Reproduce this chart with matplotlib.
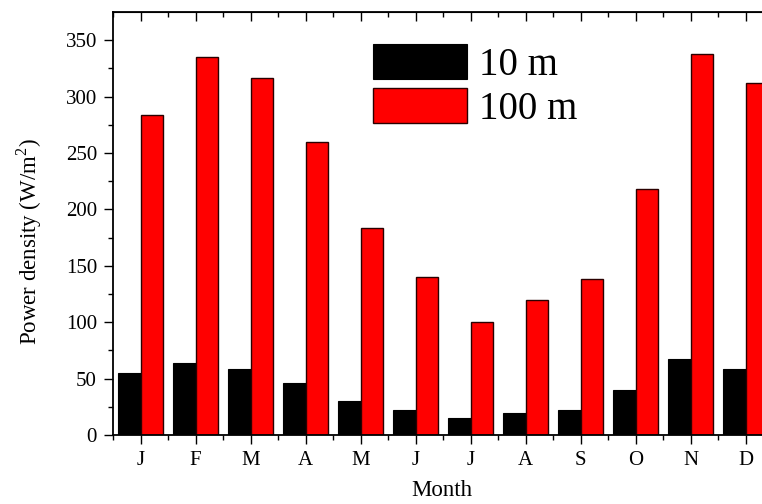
import matplotlib
matplotlib.use("Agg")
import matplotlib.pyplot as plt
from matplotlib.ticker import MultipleLocator
import numpy as np

plt.rcParams["font.family"] = ["Liberation Serif", "DejaVu Serif"]
plt.rcParams["mathtext.fontset"] = "custom"
plt.rcParams["mathtext.rm"] = "Liberation Serif"

months = ["J", "F", "M", "A", "M", "J", "J", "A", "S", "O", "N", "D"]
p_10m = [55.2, 63.5, 58.8, 45.8, 30.1, 21.9, 14.8, 19.2, 22.5, 39.6, 67.4, 58.5]
p_100m = [284.0, 335.4, 316.2, 259.8, 183.2, 140.1, 99.9, 119.7, 138.6, 218.4, 337.5, 311.8]

x = np.arange(1, len(months) + 1)
w = 0.41

fig = plt.figure(figsize=(7.62, 5.04), dpi=100)
# axes runs off the right edge like the original crop
ax = fig.add_axes([113 / 762, 69 / 504, 660 / 762, 422.5 / 504])

ax.bar(x - w / 2, p_10m, width=w, color="black", edgecolor="black", linewidth=0.8, label="10 m")
ax.bar(x + w / 2, p_100m, width=w, color="#ff0000", edgecolor="#2a0000", linewidth=1.0, label="100 m")

ax.set_xlim(0.5, 12.5)
ax.set_ylim(0, 374.5)
ax.set_xticks(x)
ax.set_xticklabels(months)
ax.xaxis.set_minor_locator(MultipleLocator(1.0, offset=0.5))
ax.yaxis.set_major_locator(MultipleLocator(50))
ax.yaxis.set_minor_locator(MultipleLocator(25))

ax.tick_params(axis="both", which="major", direction="out", length=6.5, width=1.0,
               labelsize=15, pad=5)
ax.tick_params(axis="both", which="minor", direction="out", length=3.5, width=1.0)
ax.tick_params(axis="x", which="major", pad=5)

# inward ticks on the top spine
top = ax.secondary_xaxis("top")
top.set_xticks(x)
top.set_xticklabels([])
top.xaxis.set_minor_locator(MultipleLocator(1.0, offset=0.5))
top.tick_params(which="major", direction="in", length=6.5, width=1.0)
top.tick_params(which="minor", direction="in", length=3.5, width=1.0)

for side in ["left", "bottom", "top"]:
    ax.spines[side].set_linewidth(1.3)
ax.spines["right"].set_visible(False)

ax.set_ylabel("Power density (W/m$^2$)", fontsize=16.5)
ax.yaxis.set_label_coords(-0.105, 0.458)
ax.set_xlabel("Month", fontsize=16.5)
ax.xaxis.set_label_coords(0.498, -0.107)

ax.legend(loc="upper left", bbox_to_anchor=(0.394, 0.925), frameon=False,
          fontsize=28, handlelength=2.42, handleheight=1.0, handletextpad=0.3,
          labelspacing=0.1, borderaxespad=0, borderpad=0)

fig.savefig("out.png", dpi=100)
